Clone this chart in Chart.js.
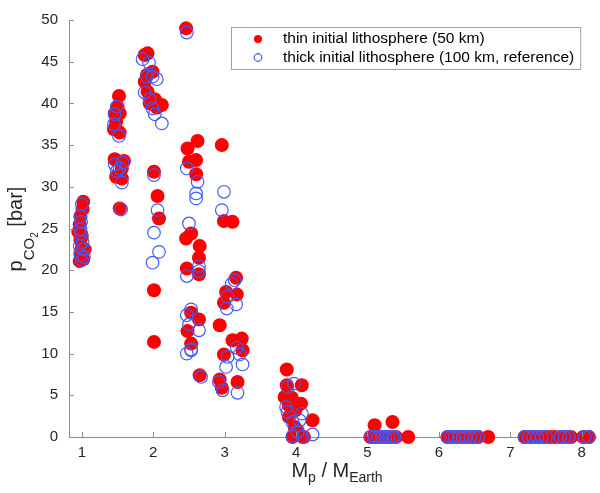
<!DOCTYPE html>
<html>
<head>
<meta charset="utf-8">
<script src="https://cdn.jsdelivr.net/npm/chart.js@4"></script>
<style>
  html, body { margin: 0; padding: 0; background: #fff; }
  #wrap { width: 600px; height: 493px; }
</style>
</head>
<body>
<div id="wrap"><canvas id="chart"></canvas></div>
<script>
// thin initial lithosphere (50 km)
const thinX = [
  1.02, 1.01, 0.98, 0.97, 0.95, 1.00, 0.98, 1.04, 1.00, 0.98, 1.02, 0.97,
  1.52, 1.50, 1.46, 1.53, 1.48, 1.45, 1.53, 1.46, 1.59, 1.56, 1.48, 1.56, 1.53,
  1.88, 1.92, 1.91, 1.99, 1.88, 1.92, 1.95, 2.02, 2.12, 2.05,
  2.01, 2.06, 2.08, 2.01, 2.01,
  2.46, 2.62, 2.48, 2.50, 2.60, 2.60, 2.53, 2.46, 2.65, 2.64, 2.47, 2.64, 2.53, 2.64, 2.48, 2.53, 2.65,
  2.96, 2.99, 3.11, 3.16, 3.02, 3.17, 2.99, 2.93, 3.11, 3.24, 3.25, 2.99, 2.93, 2.96, 3.18,
  3.87, 3.87, 4.08, 3.84, 3.94, 4.07, 3.90, 3.99, 3.90, 4.23, 3.98, 4.02, 3.95, 4.11,
  5.10, 5.35, 5.04, 5.10, 5.16, 5.22, 5.28, 5.34, 5.40, 5.57,
  6.12, 6.18, 6.24, 6.30, 6.36, 6.42, 6.48, 6.55, 6.69,
  7.20, 7.27, 7.33, 7.40, 7.47, 7.55, 7.62, 7.70, 7.77, 7.85, 8.02, 8.10
];
const thinY = [
  28.2, 27.3, 26.4, 25.5, 24.6, 24.1, 23.6, 22.5, 22.6, 22.0, 21.3, 21.1,
  40.9, 39.6, 38.8, 38.8, 37.8, 36.9, 36.5, 33.3, 33.1, 32.2, 31.2, 31.0, 27.4,
  45.8, 46.0, 43.4, 43.8, 42.6, 41.4, 40.0, 40.5, 39.8, 39.5,
  31.8, 28.9, 26.2, 17.6, 11.4,
  49.0, 35.5, 34.6, 33.0, 33.2, 31.5, 24.4, 23.8, 22.9, 21.5, 20.2, 19.5, 14.9, 14.1, 12.7, 11.2, 7.4,
  35.0, 25.9, 25.8, 19.1, 17.4, 17.1, 16.1, 13.4, 11.6, 11.8, 10.4, 9.9, 6.9, 5.9, 6.6,
  8.1, 6.2, 6.2, 4.8, 4.7, 4.0, 3.8, 3.2, 2.4, 2.0, 1.2, 0.8, 0, 0,
  1.4, 1.8, 0, 0, 0, 0, 0, 0, 0, 0,
  0, 0, 0, 0, 0, 0, 0, 0, 0,
  0, 0, 0, 0, 0, 0, 0, 0, 0, 0, 0, 0
];

// thick initial lithosphere (100 km, reference)
const thickX = [
  1.00, 0.98, 0.99, 0.98, 0.99, 1.01, 1.02, 0.98, 1.00, 0.97, 1.03,
  1.49, 1.46, 1.45, 1.52, 1.46, 1.57, 1.53, 1.49, 1.56, 1.55,
  1.85, 1.94, 1.91, 1.99, 2.05, 1.88, 1.95, 1.99, 2.02, 2.12,
  2.01, 2.06, 2.01, 2.08, 1.99,
  2.47, 2.47, 2.62, 2.60, 2.60, 2.50, 2.64, 2.64, 2.47, 2.53, 2.47, 2.50, 2.64, 2.53, 2.47, 2.53, 2.67,
  2.99, 2.96, 3.14, 3.10, 3.04, 3.03, 3.16, 3.17, 3.21, 3.25, 3.02, 3.04, 2.92, 2.97, 3.18,
  3.97, 3.88, 3.86, 3.88, 4.08, 3.95, 4.05, 4.02, 3.95, 4.09, 4.23,
  5.05, 5.10, 5.15, 5.20, 5.25, 5.30, 5.35, 5.38,
  6.12, 6.17, 6.22, 6.28, 6.33, 6.38, 6.44, 6.50, 6.55,
  7.20, 7.26, 7.32, 7.38, 7.44, 7.50, 7.70, 7.76, 7.82, 8.04, 8.10
];
const thickY = [
  27.9, 26.5, 25.8, 24.9, 24.4, 23.4, 22.5, 21.8, 21.2, 22.9, 21.6,
  39.6, 38.7, 37.5, 36.1, 32.7, 32.9, 32.2, 31.9, 30.5, 27.3,
  45.3, 44.9, 43.2, 43.2, 42.9, 41.3, 40.5, 39.4, 38.7, 37.6,
  31.4, 27.2, 24.5, 22.2, 20.9,
  48.5, 32.2, 30.6, 29.2, 28.6, 25.6, 20.5, 19.9, 19.3, 15.3, 14.6, 13.5, 12.8, 10.5, 10.0, 10.4, 7.2,
  29.4, 27.2, 18.8, 18.4, 16.8, 15.4, 15.9, 10.7, 9.9, 8.7, 8.4, 9.6, 6.6, 5.6, 5.3,
  6.4, 6.0, 3.6, 3.0, 2.8, 1.8, 2.0, 0.6, 0.1, 0, 0.3,
  0, 0, 0, 0, 0, 0, 0, 0,
  0, 0, 0, 0, 0, 0, 0, 0, 0,
  0, 0, 0, 0, 0, 0, 0, 0, 0, 0, 0
];

const xTicks = [1, 2, 3, 4, 5, 6, 7, 8];
const yTicks = [0, 5, 10, 15, 20, 25, 30, 35, 40, 45, 50];
const seriesLabels = ["thin initial lithosphere (50 km)", "thick initial lithosphere (100 km, reference)"];

const FONT = '"Liberation Sans", Arial, Helvetica, sans-serif';
const RED = "#ff0000";
const BLUE = "#3d5cff";
const AXIS = "#8c8c8c";
const TICK = "#262626";

const zip = (xs, ys) => xs.map((v, i) => ({ x: v, y: ys[i] }));

// text with subscript pieces: [text, size, dy]
function drawRich(ctx, parts, cx, baseY) {
  let w = 0;
  parts.forEach(p => { ctx.font = p[1] + "px " + FONT; w += ctx.measureText(p[0]).width; });
  let x0 = cx - w / 2;
  parts.forEach(p => {
    ctx.font = p[1] + "px " + FONT;
    ctx.fillText(p[0], x0, baseY + p[2]);
    x0 += ctx.measureText(p[0]).width;
  });
}

const extras = {
  id: "extras",
  afterDraw(chart) {
    const { ctx, chartArea: a, scales: { x, y } } = chart;
    ctx.save();

    // inward ticks like the original
    ctx.strokeStyle = AXIS;
    ctx.lineWidth = 1;
    ctx.beginPath();
    xTicks.forEach(v => {
      const px = Math.round(x.getPixelForValue(v)) + 0.5;
      ctx.moveTo(px, a.bottom);
      ctx.lineTo(px, a.bottom - 5);
    });
    yTicks.forEach(v => {
      const py = Math.round(y.getPixelForValue(v)) + 0.5;
      ctx.moveTo(a.left, py);
      ctx.lineTo(a.left + 5, py);
    });
    ctx.stroke();

    // axis titles
    ctx.fillStyle = TICK;
    ctx.textAlign = "left";
    ctx.textBaseline = "alphabetic";
    drawRich(ctx, [["M", 20, 0], ["p", 14, 5], [" / M", 20, 0], ["Earth", 14, 5]], 337, 477);

    ctx.save();
    ctx.translate(22, 229);
    ctx.rotate(-Math.PI / 2);
    drawRich(ctx, [["p", 20, 0], ["CO", 15, 12], ["2", 10, 16], [" [bar]", 20, 0]], 0, 0);
    ctx.restore();

    // legend
    ctx.font = "15.5px " + FONT;
    const tx = 283;
    const w = Math.max(ctx.measureText(seriesLabels[0]).width, ctx.measureText(seriesLabels[1]).width);
    const bw = tx + w + 6 - 231;
    ctx.fillStyle = "#fff";
    ctx.fillRect(231.5, 27.5, bw, 42);
    ctx.strokeStyle = "#a0a0a0";
    ctx.lineWidth = 1;
    ctx.strokeRect(231.5, 27.5, bw, 42);

    ctx.fillStyle = RED;
    ctx.beginPath();
    ctx.arc(258, 39, 4, 0, Math.PI * 2);
    ctx.fill();
    ctx.strokeStyle = BLUE;
    ctx.lineWidth = 1.2;
    ctx.beginPath();
    ctx.arc(258, 57.5, 3.8, 0, Math.PI * 2);
    ctx.stroke();

    ctx.fillStyle = "#000";
    ctx.textBaseline = "middle";
    ctx.fillText(seriesLabels[0], tx, 39);
    ctx.fillText(seriesLabels[1], tx, 57.5);

    ctx.restore();
  }
};

new Chart(document.getElementById("chart"), {
  type: "scatter",
  data: {
    datasets: [
      {
        label: seriesLabels[1],
        data: zip(thickX, thickY),
        pointRadius: 6.3,
        pointBorderWidth: 1.2,
        pointBackgroundColor: "rgba(0,0,0,0)",
        pointBorderColor: BLUE,
        order: 1,
        clip: false
      },
      {
        label: seriesLabels[0],
        data: zip(thinX, thinY),
        pointRadius: 7,
        pointBorderWidth: 0,
        pointBackgroundColor: RED,
        pointBorderColor: RED,
        order: 2,
        clip: false
      }
    ]
  },
  options: {
    responsive: true,
    maintainAspectRatio: false,
    animation: false,
    events: [],
    layout: { padding: { top: 12.5, right: 4, left: 0, bottom: 0 }, autoPadding: false },
    plugins: { legend: { display: false }, tooltip: { enabled: false } },
    scales: {
      x: {
        type: "linear",
        min: 0.82,
        max: 8.2,
        afterFit: s => { s.height = 56; },
        afterBuildTicks: s => { s.ticks = xTicks.map(v => ({ value: v })); },
        grid: { display: false, drawTicks: false },
        border: { color: AXIS, width: 1 },
        ticks: { font: { family: FONT, size: 15 }, color: TICK, padding: 7, maxRotation: 0 }
      },
      y: {
        min: 0,
        max: 50,
        afterFit: s => { s.width = 69; },
        afterBuildTicks: s => { s.ticks = yTicks.map(v => ({ value: v })); },
        grid: { display: false, drawTicks: false },
        border: { color: AXIS, width: 1 },
        ticks: { font: { family: FONT, size: 15 }, color: TICK, padding: 11 }
      }
    }
  },
  plugins: [extras]
});
</script>
</body>
</html>
